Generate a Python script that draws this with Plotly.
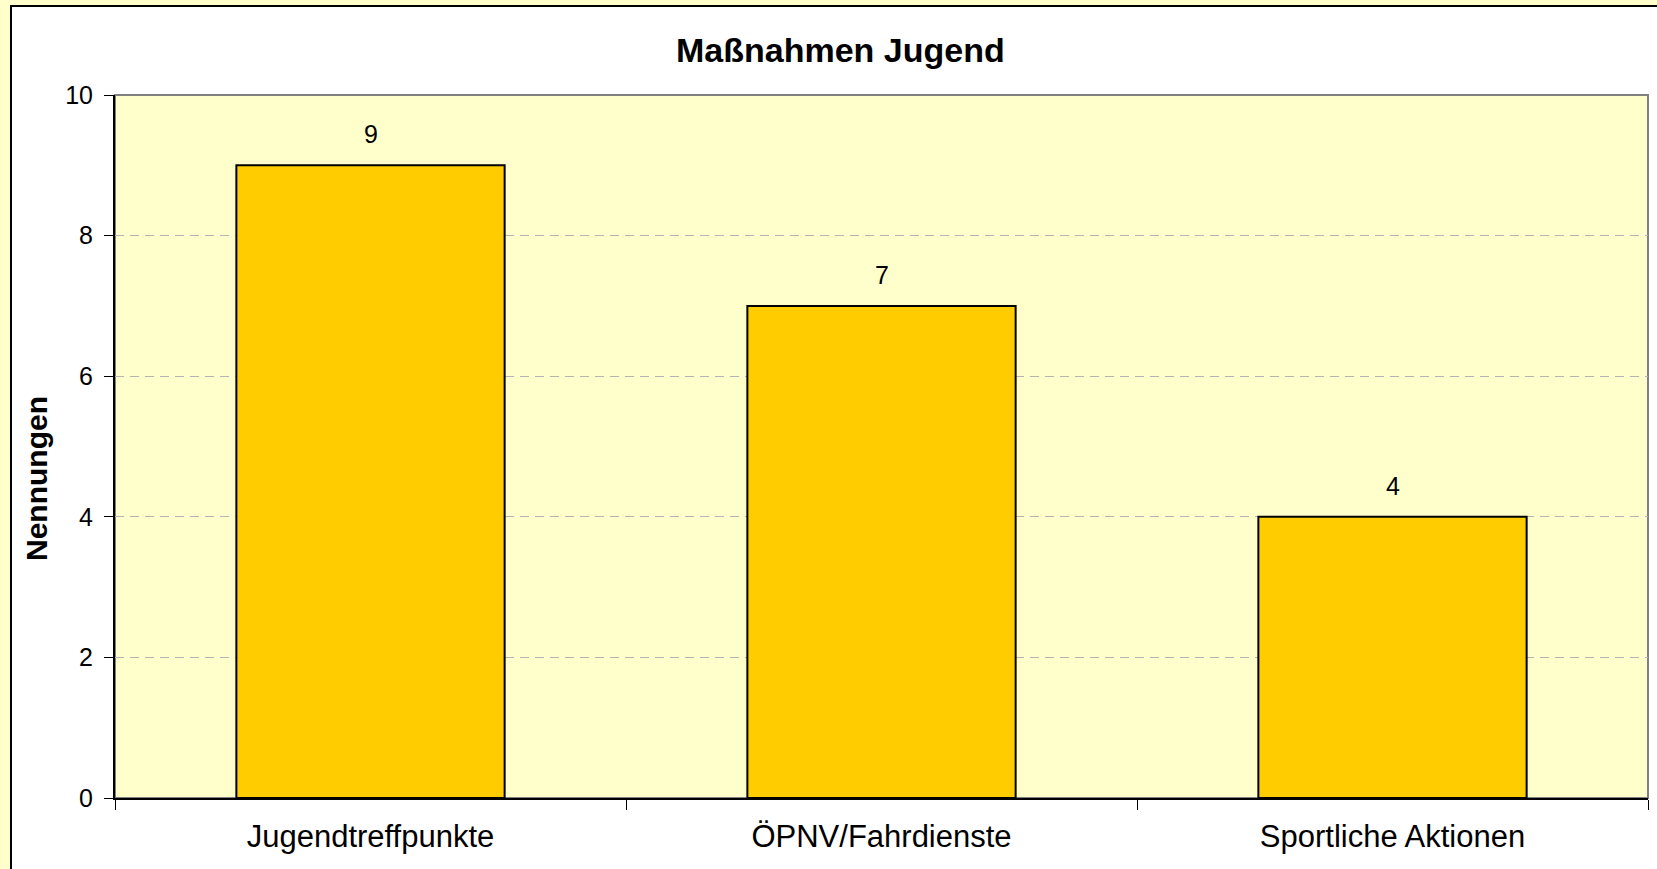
import plotly.graph_objects as go

categories = ["Jugendtreffpunkte", "ÖPNV/Fahrdienste", "Sportliche Aktionen"]
values = [9, 7, 4]
y_ticks = [0, 2, 4, 6, 8, 10]
title_text = "Maßnahmen Jugend"
y_title = "Nennungen"

W, H = 1657, 869
ML, MR, MT, MB = 115, 9, 95, 71
PW = W - ML - MR
PH = H - MT - MB


def px_x(p):
    return (p - ML) / PW


def px_y(p):
    return (H - MB - p) / PH


FONT = "Liberation Sans, Arial, sans-serif"

fig = go.Figure()
fig.add_trace(go.Bar(
    x=categories,
    y=values,
    width=0.525,
    marker=dict(color="#FFCC00", line=dict(color="#000000", width=2)),
    hoverinfo="x+y",
))

annotations = []
for c, v in zip(categories, values):
    annotations.append(dict(
        x=c, y=v, xref="x", yref="y", text=str(v), showarrow=False,
        yanchor="middle", yshift=31,
        font=dict(family=FONT, size=25, color="#000000"),
    ))

annotations.append(dict(
    x=px_x(840), y=px_y(50), xref="paper", yref="paper",
    text="<b>" + title_text + "</b>", showarrow=False,
    xanchor="center", yanchor="middle",
    font=dict(family=FONT, size=34, color="#000000"),
))
annotations.append(dict(
    x=px_x(36), y=px_y(479), xref="paper", yref="paper",
    text="<b>" + y_title + "</b>", showarrow=False, textangle=-90,
    xanchor="center", yanchor="middle",
    font=dict(family=FONT, size=30, color="#000000"),
))

shapes = [
    # white chart area with black border
    dict(type="rect", xref="paper", yref="paper",
         x0=px_x(11), x1=px_x(W + 40), y0=px_y(H + 40), y1=px_y(6),
         fillcolor="#FFFFFF", line=dict(color="#000000", width=2), layer="below"),
    # plot area background with gray border
    dict(type="rect", xref="paper", yref="paper",
         x0=0, x1=1, y0=0, y1=1,
         fillcolor="#FFFFCC", line=dict(color="#808080", width=2), layer="below"),
]

fig.update_layout(
    width=W, height=H,
    margin=dict(l=ML, r=MR, t=MT, b=MB, pad=0),
    paper_bgcolor="#FFFFCC",
    plot_bgcolor="rgba(0,0,0,0)",
    showlegend=False,
    annotations=annotations,
    shapes=shapes,
    font=dict(family=FONT, color="#000000"),
    xaxis=dict(
        type="category",
        tickson="boundaries",
        ticks="outside", ticklen=10, tickwidth=1, tickcolor="#000000",
        showline=True, linecolor="#000000", linewidth=2,
        showgrid=False,
        tickfont=dict(family=FONT, size=31, color="#000000"),
        ticklabelstandoff=10,
        range=[-0.5, 2.5],
        fixedrange=True,
    ),
    yaxis=dict(
        range=[0, 10],
        tickvals=y_ticks,
        ticks="outside", ticklen=9, tickwidth=1, tickcolor="#000000",
        showline=True, linecolor="#000000", linewidth=2,
        showgrid=True, gridcolor="#B4B4B4", gridwidth=1, griddash="9px,6px",
        zeroline=False,
        tickfont=dict(family=FONT, size=25, color="#000000"),
        ticklabelstandoff=6,
        fixedrange=True,
    ),
)

fig.write_html(
    "out.html",
    config={"displayModeBar": False},
    post_script="document.body.style.margin='0px';document.body.style.overflow='hidden';document.body.style.background='#FFFFCC';",
)
